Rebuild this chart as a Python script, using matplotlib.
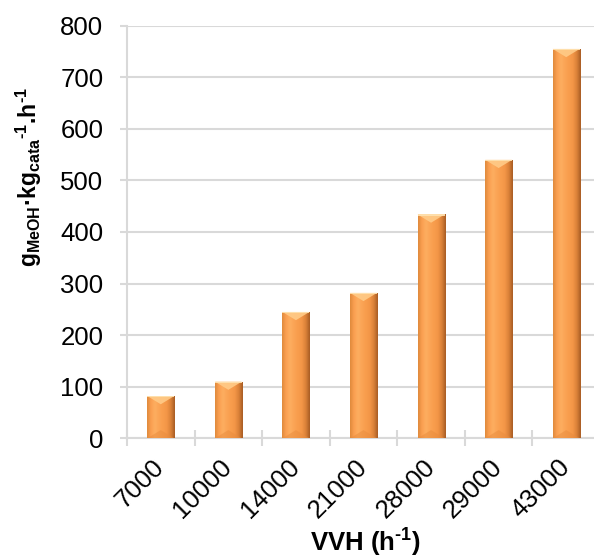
import numpy as np
import matplotlib
matplotlib.use("Agg")
import matplotlib.pyplot as plt
from matplotlib.colors import LinearSegmentedColormap
from matplotlib.patches import Polygon

categories = ["7000", "10000", "14000", "21000", "28000", "29000", "43000"]
values = [82, 110, 245, 282, 434, 540, 755]
yticks = [0, 100, 200, 300, 400, 500, 600, 700, 800]

plt.rcParams['font.family'] = ['Liberation Sans', 'DejaVu Sans']
plt.rcParams['mathtext.fontset'] = 'custom'
plt.rcParams['mathtext.rm'] = 'Liberation Sans'
plt.rcParams['mathtext.bf'] = 'Liberation Sans:bold'
plt.rcParams['mathtext.it'] = 'Liberation Sans:italic'
plt.rcParams['mathtext.default'] = 'bf'

FS = 18.5
fig = plt.figure(figsize=(5.94, 5.59), dpi=100)
ax = fig.add_axes([127/594, 120.7/559, 473/594, 412.6/559])

x = np.arange(len(categories))
bars = ax.bar(x, values, width=0.4, color='#F9A050', edgecolor='none', zorder=3)

cmap = LinearSegmentedColormap.from_list(
    'barg', ['#E08A3C', '#FBA052', '#FDAE60', '#FBA455', '#F89D4D', '#F39647', '#DB8239', '#A85D24'])
grad = np.linspace(0, 1, 64).reshape(1, -1)
for b in bars:
    x0, w, h = b.get_x(), b.get_width(), b.get_height()
    im = ax.imshow(grad, cmap=cmap, aspect='auto', extent=(x0, x0 + w, 0, h),
                   zorder=3.5, interpolation='bicubic')
    im.set_clip_path(b)
    bev = 16
    ax.add_patch(Polygon([(x0, h), (x0 + w, h), (x0 + w * 0.5, h - bev)],
                         closed=True, facecolor='#FFCB88', edgecolor='none',
                         alpha=0.9, zorder=4))
    ax.add_patch(Polygon([(x0, h), (x0 + w, h), (x0 + w, h - 2.5), (x0, h - 2.5)],
                         closed=True, facecolor='#FFE2B0', edgecolor='none',
                         alpha=0.9, zorder=4))
    ax.add_patch(Polygon([(x0, 0), (x0 + w, 0), (x0 + w * 0.5, bev)],
                         closed=True, facecolor='#E88C3E', edgecolor='none',
                         alpha=0.5, zorder=4))

ax.set_xlim(-0.5, len(categories) - 0.5)
ax.set_ylim(0, 800)
ax.set_yticks(yticks)
ax.set_yticklabels([str(v) for v in yticks], fontsize=FS)
ax.yaxis.grid(True, color='#D9D9D9', linewidth=1.5, zorder=0)
ax.set_axisbelow(True)

ax.set_xticks(np.arange(len(categories) + 1) - 0.5, minor=False)
ax.set_xticklabels([''] * (len(categories) + 1))
ax.set_xticks(x, minor=True)
ax.set_xticklabels(categories, minor=True, fontsize=FS, rotation=45,
                   ha='right', va='center', rotation_mode='anchor')
ax.tick_params(axis='x', which='major', direction='inout', length=11,
               width=1.5, color='#D9D9D9')
ax.tick_params(axis='x', which='minor', length=0, pad=18)
ax.tick_params(axis='y', direction='out', length=5, width=1.5,
               color='#D9D9D9', pad=12)

for s in ['top', 'right']:
    ax.spines[s].set_visible(False)
for s in ['left', 'bottom']:
    ax.spines[s].set_color('#D9D9D9')
    ax.spines[s].set_linewidth(1.5)

HY = '\u2010'
fig.text(365/594, 1 - 543/559, 'VVH (h$^{' + HY + '1}$)', fontsize=FS, fontweight='bold',
         ha='center', va='center')
fig.text(29/594, 1 - 177/559,
         '$g_{MeOH}$\u00b7$kg_{cata}{}^{' + HY + '1}$.$h^{' + HY + '1}$',
         fontsize=16.5, fontweight='bold', rotation=90, ha='center', va='center')

fig.savefig('out.png', dpi=100)
